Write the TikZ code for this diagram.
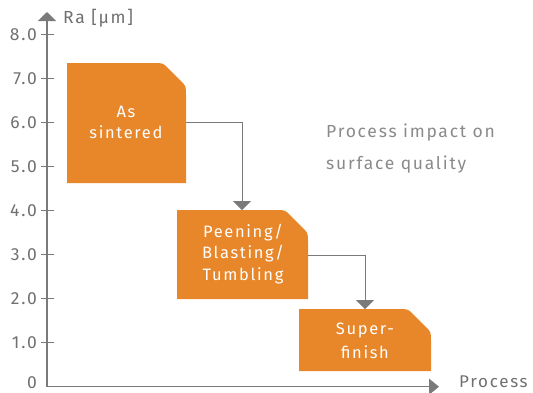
\documentclass[tikz,border=0pt]{standalone}
\usepackage{fontspec}
\setmainfont{Fira Sans}[LetterSpace=10.0]
\usetikzlibrary{arrows.meta}
\definecolor{orng}{HTML}{E8862A}
\definecolor{axgray}{HTML}{7A7A7A}
\definecolor{txgray}{HTML}{707070}
\definecolor{ltgray}{HTML}{8A8A8A}
\newcommand\orbox[4]{%
  \fill[orng] (#1,#4) -- (#1,#2) -- ({#3-32},#2) .. controls ({#3-23},#2) .. ({#3-17},{#2+6})
    -- ({#3-6},{#2+17}) .. controls (#3,{#2+23}) .. (#3,{#2+32}) -- (#3,#4) -- cycle;}
\tikzset{
  axis/.style={draw=axgray, line width=1.2pt},
  conn/.style={draw=axgray, line width=1pt, -{Triangle[width=18pt,length=9pt]}},
  ticklbl/.style={anchor=east, text=txgray, font=\fontsize{17.5}{18}\selectfont, inner sep=0pt},
  boxtxt/.style={text=white, align=center, font=\fontsize{16.5}{21.5}\selectfont, inner sep=0pt},
}
\begin{document}
\begin{tikzpicture}[x=1pt,y=-1pt]
\useasboundingbox (0,0) rectangle (533,392);
% axes
\coordinate (O) at (47,386.7);
\coordinate (ytop) at (47,12);
\coordinate (xend) at (439,386.7);
\draw[axis, -{Triangle[width=18pt,length=9pt]}] (O) -- (ytop);
\draw[axis, -{Triangle[width=16pt,length=10pt]}] (O) -- (xend);
\node[anchor=west, text=txgray, font=\fontsize{17.5}{18}\selectfont, inner sep=0pt] (ra) at (63,18) {Ra [µm]};
\node[anchor=west, text=txgray, font=\fontsize{17}{18}\selectfont, inner sep=0pt] (proc) at (459,382) {Process};
\foreach \v/\lab in {1/1.0,2/2.0,3/3.0,4/4.0,5/5.0,6/6.0,7/7.0,8/8.0}{
  \draw[axgray, line width=1.2pt] (41,{386.7-44*\v}) -- (54,{386.7-44*\v});
  \node[ticklbl] (t\v) at (37,{386.7-44*\v}) {\lab};
}
\node[ticklbl] (t0) at (37,383) {0};
% boxes
\orbox{67}{63}{186}{183}
\orbox{177}{210}{308}{299}
\orbox{299}{309}{431}{371}
\node[boxtxt, font=\fontsize{16.5}{21}\selectfont] (b1) at (126,122) {As\\sintered};
\node[boxtxt] (b2) at (243,254) {Peening/\\Blasting/\\Tumbling};
\node[boxtxt, font=\fontsize{16.5}{24}\selectfont] (b3) at (365,341) {Super-\\finish};
\coordinate (b1e) at (186,122.7);
\coordinate (b2n) at (242,210);
\coordinate (b2e) at (308,255);
\coordinate (b3n) at (365,309);
\draw[conn] (b1e) -| (b2n);
\draw[conn] (b2e) -| (b3n);
% caption
\node[anchor=west, text=ltgray, align=left, font=\fontsize{17.5}{32}\selectfont, inner sep=0pt] (cap) at (326,149) {Process impact on\\surface quality};
\end{tikzpicture}
\end{document}
